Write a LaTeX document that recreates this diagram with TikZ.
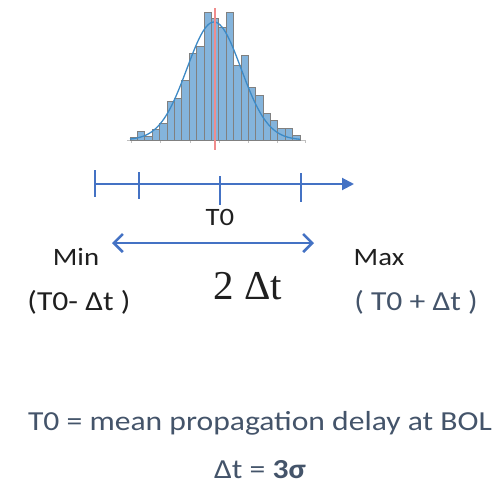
\documentclass[tikz,border=0pt]{standalone}
\usepackage{fontspec}
\setmainfont{Carlito}[FakeStretch=1.15]
\newfontfamily\timesfont{Liberation Serif}
\usepackage{tikz}
\usetikzlibrary{arrows.meta, positioning, calc}

\definecolor{axisblue}{HTML}{4472C4}
\definecolor{slate}{HTML}{44546A}
\definecolor{barblue}{HTML}{84B4DC}
\definecolor{curveblue}{HTML}{3D8AC6}
\definecolor{meanred}{HTML}{F08C8C}

\begin{document}
\begin{tikzpicture}[x=1pt, y=-1pt,
  bar/.style={draw=black!50, fill=barblue, line width=0.7pt},
  fitline/.style={curveblue, line width=1.3pt},
  meanline/.style={meanred, line width=1.8pt},
  histaxis/.style={gray!50, line width=0.5pt},
  axis/.style={axisblue, line width=2pt, -{Triangle[length=12pt,width=12pt]}},
  tickmark/.style={axisblue, line width=2pt},
  span/.style={axisblue, line width=2.6pt,
    {Straight Barb[length=9pt,width=18pt]}-{Straight Barb[length=9pt,width=18pt]}},
  lbl/.style={font=\fontsize{25}{30}\selectfont, text=black!88,
    inner sep=0pt, anchor=base},
  bound/.style={font=\fontsize{27.5}{32}\selectfont, text=black!88,
    inner sep=0pt, anchor=base},
  note/.style={font=\fontsize{27.5}{32}\selectfont, text=slate,
    inner sep=0pt, anchor=base},
]
\useasboundingbox (0,0) rectangle (499,490);

% ── Histogram of measured delays ──
\draw[histaxis] (127,140) -- (306,140);
\foreach \tx in {131,160,190,219,248,277,305}
  \draw[histaxis] (\tx,140) -- (\tx,142.5);
\foreach \h [count=\i from 0] in {2.3,8.3,4,11,16.7,39,41.7,60,86.7,93.3,127.7,121.7,
    112.3,127.7,74.3,84.3,52.3,44.3,27,20,11.7,11.7,4.3}
  \draw[bar] ({130+7.39*\i},140) rectangle ++(7.39,-\h);

% fitted normal curve and mean
\draw[fitline] plot[domain=130:300, samples=90, smooth]
  (\x, {140-118*exp(((\x-214)^2)/(-1458))});
\draw[meanline] (215,8) -- (215,150);

% ── Time axis ──
\coordinate (ax0) at (95,184);
\coordinate (axend) at (354,184);
\draw[axis] (ax0) -- (axend);
\foreach \tx/\ta/\tb/\tn in {95/170/197/tmin, 139/172/199/tlo, 220/176/205/tmid, 301/173/202/thi} {
  \coordinate (\tn) at (\tx,184);
  \draw[tickmark] (\tx,\ta) -- (\tx,\tb);
}
\node[lbl] (t0) at (220,225.5) {T0};

% ── Spread 2 Δt ──
\coordinate (spanL) at (112,243);
\coordinate (spanR) at (314,243);
\draw[span] (spanL) -- (spanR);

\node[lbl] (min) at (76,265) {Min};
\node[lbl] (max) at (379,265) {Max};
\node[bound] (lowb) at (79,310) {(T0- Δt )};
\node[bound, text=slate] (highb) at (416,310) {( T0 + Δt )};
\node[lbl, font=\timesfont\fontsize{41}{46}\selectfont] (twodt) at (248,299) {2 Δt};

% ── Definitions ──
\node[note] (defT) at (260,430) {T0 = mean propagation delay at BOL};
\node[note] (defdt) at (260,478) {Δt = \textbf{3σ}};
\end{tikzpicture}
\end{document}
